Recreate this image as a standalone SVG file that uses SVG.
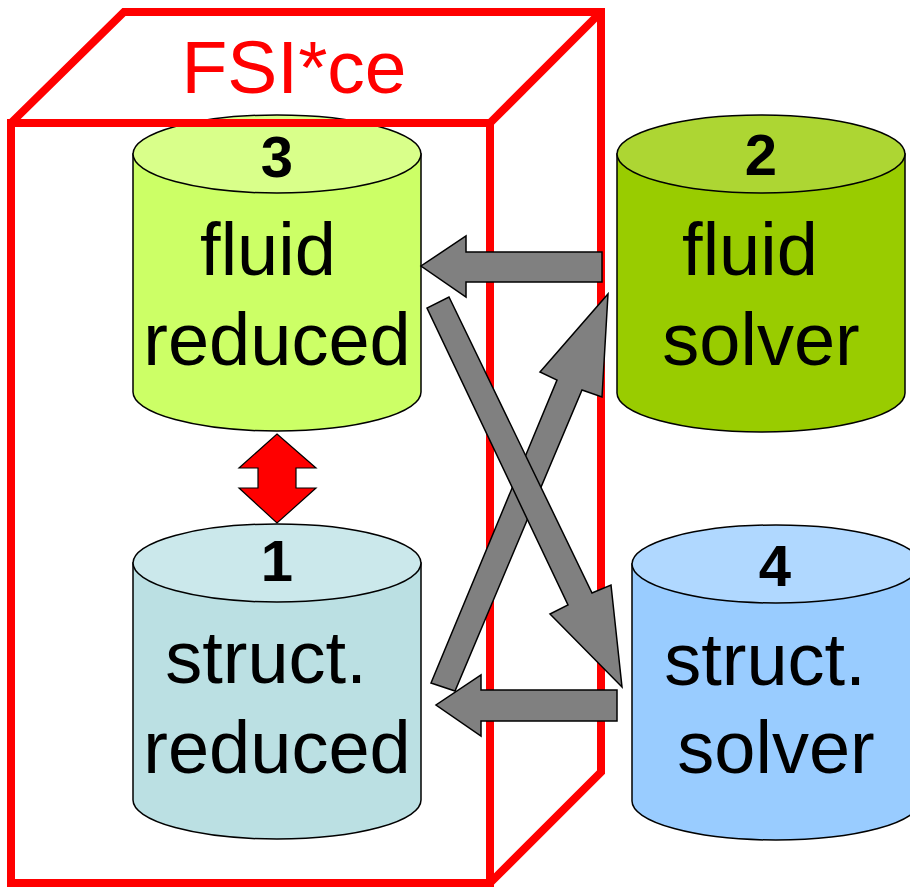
<svg xmlns="http://www.w3.org/2000/svg" width="910" height="888" viewBox="0 0 910 888">
  <style>
    .body { stroke: #000; stroke-width: 1.5; }
    .lid { stroke: #000; stroke-width: 1.5; }
    .num { font-family: "Liberation Sans", Arial, sans-serif; font-weight: bold; font-size: 58px; text-anchor: middle; fill: #000; }
    .lbl { font-family: "Liberation Sans", Arial, sans-serif; font-size: 74px; text-anchor: middle; fill: #000; }
    .box { fill: none; stroke: #ff0000; stroke-width: 8; stroke-linejoin: miter; stroke-linecap: butt; }
    .title { font-family: "Liberation Sans", Arial, sans-serif; font-size: 75px; text-anchor: middle; fill: #ff0000; }
    .flow { fill: #808080; stroke: #000; stroke-width: 1.5; stroke-linejoin: miter; }
    .link { fill: #ff0000; stroke: #000; stroke-width: 1.2; }
  </style>
  <rect width="910" height="888" fill="#ffffff"/>

  <!-- 3: fluid reduced -->
  <g id="node-fluid-reduced">
    <path class="body" fill="#ccff66" d="M133,154 V392 A144,39 0 0 0 421,392 V154 Z"/>
    <ellipse class="lid" fill="#d9ff8a" cx="277" cy="154" rx="144" ry="39"/>
    <text class="num" x="277" y="177">3</text>
    <text class="lbl" x="268" y="275">fluid</text>
    <text class="lbl" x="277" y="365">reduced</text>
  </g>

  <!-- 2: fluid solver -->
  <g id="node-fluid-solver">
    <path class="body" fill="#99cc00" d="M617,154 V393 A144,39 0 0 0 905,393 V154 Z"/>
    <ellipse class="lid" fill="#add633" cx="761" cy="154" rx="144" ry="39"/>
    <text class="num" x="761" y="175">2</text>
    <text class="lbl" x="750" y="275">fluid</text>
    <text class="lbl" x="761" y="365">solver</text>
  </g>

  <!-- 1: struct. reduced -->
  <g id="node-struct-reduced">
    <path class="body" fill="#bbe0e3" d="M133,563 V800 A144,39 0 0 0 421,800 V563 Z"/>
    <ellipse class="lid" fill="#cbe8eb" cx="277" cy="563" rx="144" ry="39"/>
    <text class="num" x="277" y="581">1</text>
    <text class="lbl" x="266" y="683">struct.</text>
    <text class="lbl" x="277" y="773">reduced</text>
  </g>

  <!-- 4: struct. solver -->
  <g id="node-struct-solver">
    <path class="body" fill="#99ccff" d="M632,564 V801 A144,39 0 0 0 920,801 V564 Z"/>
    <ellipse class="lid" fill="#b0d8ff" cx="776" cy="564" rx="144" ry="39"/>
    <text class="num" x="775" y="586">4</text>
    <text class="lbl" x="765" y="685">struct.</text>
    <text class="lbl" x="776" y="773">solver</text>
  </g>

  <!-- FSI*ce enclosure drawn as an open box -->
  <g id="node-fsice">
    <rect class="box" x="11" y="123" width="479" height="760"/>
    <path class="box" d="M11,123 L124,12 L601,12 L601,772 L490,883"/>
    <path class="box" d="M490,123 L601,12"/>
    <text class="title" x="294" y="93">FSI*ce</text>
  </g>

  <!-- data flow arrows -->
  <g id="connectors">
    <polygon id="edge-2-3" class="flow" points="602,252 466,252 466,236 421,266 466,297 466,282 602,282"/>
    <polygon id="edge-1-2" class="flow" points="431,683 557,380 540,372 608,294 602,397 582,390 455,691"/>
    <polygon id="edge-3-4" class="flow" points="449,297 592,593 611,585 622,687 550,614 568,605 427,308"/>
    <polygon id="edge-4-1" class="flow" points="617,690 481,690 481,675 436,705 481,736 481,721 617,721"/>
    <polygon id="edge-3-1" class="link" points="277,434 316,468 296,468 296,488 316,488 277,523 239,488 258,488 258,468 239,468"/>
  </g>
</svg>
